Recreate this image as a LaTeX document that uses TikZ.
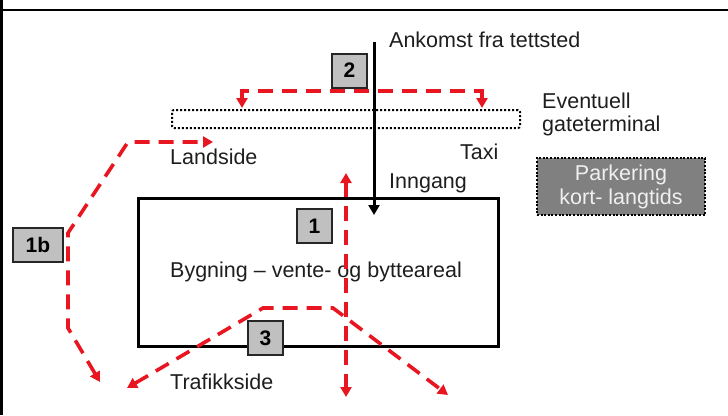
\documentclass[tikz,border=0pt]{standalone}
\usepackage{fontspec}
\setmainfont{Liberation Sans}
\usetikzlibrary{arrows.meta}
\definecolor{rd}{RGB}{232,22,32}
\definecolor{boxgray}{RGB}{192,192,192}
\definecolor{parkgray}{RGB}{128,128,128}
\definecolor{txt}{RGB}{30,30,30}
\begin{document}
\begin{tikzpicture}[x=1pt,y=-1pt,
  numbox/.style={draw=black!85,line width=2pt,fill=boxgray,font=\bfseries\fontsize{21}{22}\selectfont,minimum width=35pt,minimum height=34pt,inner sep=0pt},
  redpath/.style={draw=rd,line width=3.6pt,dash pattern=on 15pt off 9pt,{Triangle[length=10pt,width=11pt]}-{Triangle[length=10pt,width=11pt]}},
  lbl/.style={font=\fontsize{21.5}{23}\selectfont,text=txt,inner sep=0pt,anchor=west}]
\useasboundingbox (0,0) rectangle (728,415);
% frame
\fill[black] (0,0) rectangle (3,415);
\draw[line width=2.5pt] (0,10) -- (728,10);
% building
\node[draw=black,line width=3pt,minimum width=360pt,minimum height=148pt,inner sep=0pt] (bld) at (318,272) {};
% dotted gate terminal
\node[draw=black,line width=2pt,dash pattern=on 2pt off 2pt,rounded corners=2pt,minimum width=348pt,minimum height=18pt,inner sep=0pt] (gate) at (346,119) {};
% parking
\node[draw=black,line width=2.2pt,dash pattern=on 2pt off 1.6pt,fill=parkgray,minimum width=168pt,minimum height=57pt,inner sep=0pt,align=center,font=\fontsize{21.5}{24}\selectfont,text=white!94!black] (park) at (621,186.5) {Parkering\\kort- langtids};
% texts
\node[lbl] (ank) at (389,40) {Ankomst fra tettsted};
\node[lbl,align=left,font=\fontsize{21.5}{23}\selectfont] (evt) at (542,114.5) {Eventuell\\gateterminal};
\node[lbl] (taxi) at (460,152) {Taxi};
\node[lbl] (inn) at (389,183) {Inngang};
\node[lbl] (land) at (170,157) {Landside};
\node[lbl] (byg) at (170,272) {Bygning -- vente- og bytteareal};
\node[lbl] (traf) at (170,382) {Trafikkside};
% black arrival arrow
\coordinate (a0) at (374,42);
\coordinate (a1) at (374,215);
\draw[line width=3pt,-{Triangle[length=10pt,width=11pt]}] (a0) -- (a1);
% red paths
\coordinate (t1) at (242,108); \coordinate (t2) at (242,91); \coordinate (t3) at (482,91); \coordinate (t4) at (482,108);
\draw[redpath] (t1) -- (t2) -- (t3) -- (t4);
\coordinate (b1) at (100,382); \coordinate (b2) at (68,328); \coordinate (b3) at (68,233); \coordinate (b4) at (128,142); \coordinate (b5) at (213,142);
\draw[redpath] (b1) -- (b2) -- (b3) -- (b4) -- (b5);
\coordinate (v1) at (346,173); \coordinate (v2) at (346,397);
\draw[redpath] (v1) -- (v2);
\coordinate (c1) at (127,388); \coordinate (c2) at (263,308); \coordinate (c3) at (333,308); \coordinate (c4) at (448,395);
\draw[redpath] (c1) -- (c2) -- (c3) -- (c4);
% number boxes
\node[numbox] (n2) at (349.5,70.5) {2};
\node[numbox] (n1) at (314.5,226) {1};
\node[numbox] (n3) at (265.5,338) {3};
\node[numbox,minimum width=50pt] (n1b) at (38,245) {1b};
\end{tikzpicture}
\end{document}
